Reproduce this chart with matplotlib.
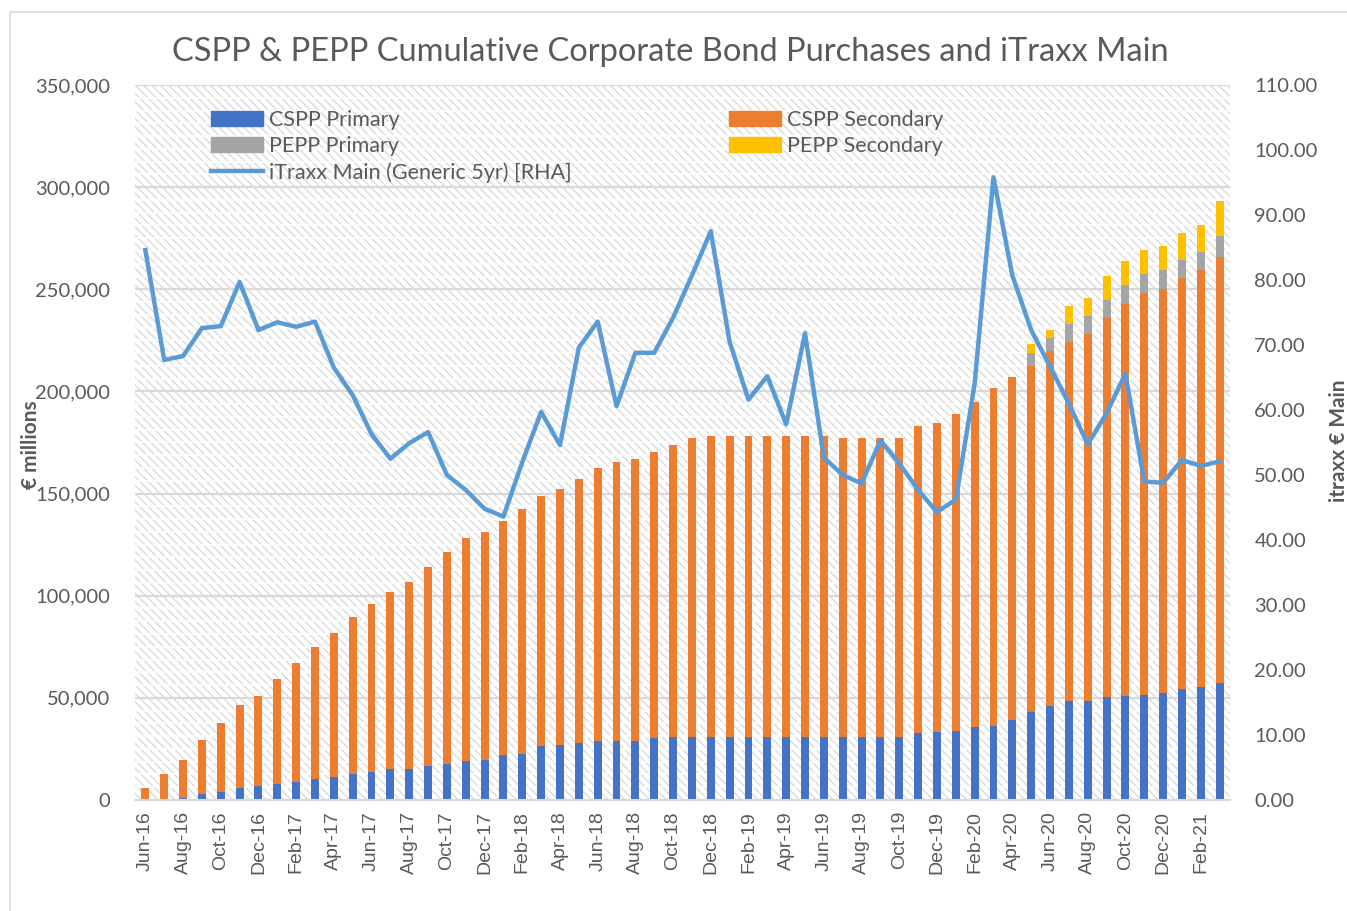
import numpy as np
import pandas as pd
import matplotlib
matplotlib.use('Agg')
import matplotlib.pyplot as plt
from matplotlib.patches import Rectangle, Patch
from matplotlib.lines import Line2D
from matplotlib.ticker import FuncFormatter, MultipleLocator

# months Jun-16 .. Mar-21
months = pd.date_range('2016-06-01', periods=58, freq='MS').strftime('%b-%y').tolist()

# cumulative holdings, EUR millions
cspp_primary = [0, 600, 1100, 2900, 3900, 5900, 6700, 8000, 8800, 10300,
                11100, 12900, 13500, 15100, 15300, 16400, 17400, 19100, 19500, 21800,
                22700, 26600, 27000, 28100, 28900, 28900, 28900, 30500, 30700, 30900,
                30900, 30900, 30900, 30900, 30900, 30900, 30900, 30900, 30900, 30900,
                30900, 32600, 33300, 34000, 35700, 36000, 39000, 43000, 45800, 48500,
                48500, 50300, 51000, 51300, 52300, 54500, 55200, 57200]
cspp_secondary = [6000, 12300, 18600, 26600, 33900, 40800, 44000, 51100, 58100, 64800,
                  70800, 76500, 82600, 86700, 91200, 97800, 103800, 109200, 111600, 115000,
                  119800, 122000, 125000, 128900, 133500, 136500, 137800, 140000, 143300, 146100,
                  147200, 147100, 147400, 147100, 147100, 147100, 147100, 146300, 146500, 146100,
                  146200, 150300, 151200, 155000, 159000, 165500, 168200, 169500, 173800, 175500,
                  179500, 185900, 192000, 197100, 197900, 200800, 204100, 208800]
pepp_primary = [0] * 47 + [6300, 6700, 8800, 8800, 8800, 9000, 8900, 9000, 9100, 9000, 10200]
pepp_secondary = [0] * 47 + [4200, 4000, 9100, 8900, 11500, 11800, 12000, 12000, 13200, 13300, 16800]

# iTraxx Main generic 5yr (bp)
itraxx = [84.6, 67.7, 68.3, 72.6, 72.9, 79.7, 72.3, 73.5, 72.8, 73.6,
          66.5, 62.3, 56.3, 52.5, 54.9, 56.6, 50.0, 47.7, 44.8, 43.6,
          52.0, 59.7, 54.6, 69.6, 73.6, 60.6, 68.8, 68.8, 74.2, 80.7,
          87.5, 70.5, 61.6, 65.2, 57.8, 71.8, 52.7, 50.0, 48.7, 55.3,
          51.8, 47.7, 44.3, 46.2, 64.0, 95.8, 80.7, 72.3, 66.7, 61.0,
          54.7, 59.5, 65.6, 49.0, 48.8, 52.3, 51.4, 52.1]

c_blue = '#4472C4'
c_orange = '#ED7D31'
c_gray = '#A5A5A5'
c_yellow = '#FFC000'
c_line = '#5B9BD5'
c_text = '#595959'

plt.rcParams['font.family'] = ['Lato', 'DejaVu Sans']
plt.rcParams['hatch.linewidth'] = 1.0
plt.rcParams['hatch.color'] = '#dadada'

W, H = 1347, 911
fig = plt.figure(figsize=(W / 100, H / 100), dpi=100)
fig.patch.set_facecolor('white')
fig.patches.append(Rectangle((10 / W, -0.1), 1.2, 1 - 12 / H + 0.1, transform=fig.transFigure,
                             fill=False, edgecolor='#d9d9d9', lw=1.2))

ax = fig.add_axes([135 / W, 1 - 800 / H, 1095 / W, 715 / H])
ax.set_facecolor('none')
ax.add_patch(Rectangle((0, 0), 1, 1, transform=ax.transAxes, facecolor='white',
                       edgecolor='#dadada', hatch='\\\\\\\\', lw=0, zorder=0.1))

x = np.arange(len(months))
cspp_primary = np.array(cspp_primary)
cspp_secondary = np.array(cspp_secondary)
pepp_primary = np.array(pepp_primary)
pepp_secondary = np.array(pepp_secondary)

w = 0.42
ax.bar(x, cspp_primary, w, color=c_blue, zorder=2)
ax.bar(x, cspp_secondary, w, bottom=cspp_primary, color=c_orange, zorder=2)
b2 = cspp_primary + cspp_secondary
ax.bar(x, pepp_primary, w, bottom=b2, color=c_gray, zorder=2)
ax.bar(x, pepp_secondary, w, bottom=b2 + pepp_primary, color=c_yellow, zorder=2)

ax.set_xlim(-0.55, 57.55)
ax.set_ylim(0, 350000)
ax.yaxis.set_major_locator(MultipleLocator(50000))
ax.yaxis.set_minor_locator(MultipleLocator(6250))
ax.yaxis.set_major_formatter(FuncFormatter(lambda v, p: f'{int(v):,}'))
ax.grid(axis='y', which='major', color='#d9d9d9', lw=1.6, zorder=0.5)
ax.grid(axis='y', which='minor', color='white', lw=1.6, alpha=0.8, zorder=0.4)
ax.set_axisbelow(True)
ax.tick_params(axis='y', which='both', length=0, labelsize=14.5, labelcolor=c_text, pad=18)
ax.set_xticks(x[::2])
ax.set_xticklabels(months[::2], rotation=90, fontsize=14, color=c_text, family='Liberation Sans')
ax.tick_params(axis='x', length=0, pad=8)
for s in ['left', 'right', 'top']:
    ax.spines[s].set_visible(False)
ax.spines['bottom'].set_color('#d9d9d9')
ax.spines['bottom'].set_linewidth(1.5)
ax.set_ylabel('€ millions', fontsize=15, fontweight='bold', color=c_text)
ax.yaxis.set_label_coords(-0.086, 0.497)

ax2 = ax.twinx()
ax2.plot(x, itraxx, color=c_line, lw=3.2, zorder=3)
ax2.set_ylim(0, 110)
ax2.yaxis.set_major_locator(MultipleLocator(10))
ax2.yaxis.set_major_formatter(FuncFormatter(lambda v, p: f'{v:.2f}'))
ax2.tick_params(axis='y', length=0, labelsize=14.5, labelcolor=c_text, pad=17.5)
for s in ['left', 'right', 'top', 'bottom']:
    ax2.spines[s].set_visible(False)
ax2.set_ylabel('itraxx € Main', fontsize=15, fontweight='bold', color=c_text, rotation=90)
ax2.yaxis.set_label_coords(1.09, 0.503)

# legend in two columns
h1 = [Patch(color=c_blue), Patch(color=c_gray), Line2D([], [], color=c_line, lw=3.2)]
l1 = ['CSPP Primary', 'PEPP Primary', 'iTraxx Main (Generic 5yr) [RHA]']
h2 = [Patch(color=c_orange), Patch(color=c_yellow)]
l2 = ['CSPP Secondary', 'PEPP Secondary']
kw = dict(frameon=False, fontsize=15.5, labelcolor=c_text, handlelength=2.4, handleheight=0.68,
          handletextpad=0.3, labelspacing=0.28, borderpad=0, borderaxespad=0,
          bbox_transform=fig.transFigure, loc='upper left')
leg1 = ax2.legend(h1, l1, bbox_to_anchor=(211 / W, 1 - 110 / H), **kw)
ax2.add_artist(leg1)
ax2.legend(h2, l2, bbox_to_anchor=(729 / W, 1 - 110 / H), **kw)

fig.text(670 / W, 1 - 52 / H, 'CSPP & PEPP Cumulative Corporate Bond Purchases and iTraxx Main',
         ha='center', va='center', fontsize=23.5, color=c_text)

fig.savefig('out.png', dpi=100)
